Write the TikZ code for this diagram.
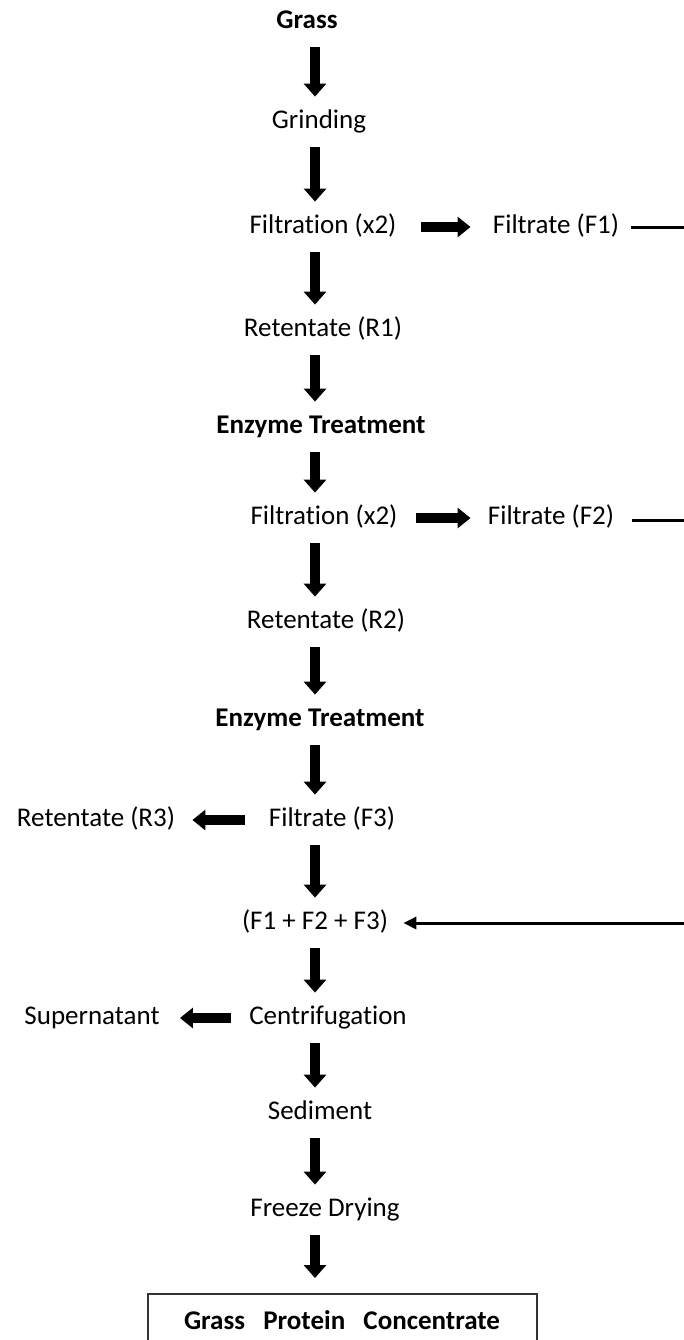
\documentclass[tikz,border=0pt]{standalone}
\usepackage{fontspec}
\setmainfont{Carlito}[Ligatures=NoCommon]
\usetikzlibrary{arrows.meta}
\begin{document}
\begin{tikzpicture}[x=0.5pt,y=-0.5pt,
    stage/.style={font=\fontsize{13.5}{16}\selectfont,inner sep=0pt,minimum height=25pt,text height=9pt,text depth=3pt},
    bstage/.style={stage,font=\fontsize{13.5}{16}\selectfont\bfseries},
    down/.style={line width=5pt,-{Triangle[width=11pt,length=6.5pt]}},
    side/.style={line width=5pt,-{Triangle[width=10pt,length=6.5pt]}},
    feed/.style={line width=1.5pt}]
    \useasboundingbox (0,0) rectangle (684,1340);
    \coordinate (spine) at (315,0);
    \node[bstage](grass) at (307,22){Grass};
    \node[stage](grind) at (319,122){Grinding};
    \node[stage](filt1) at (323,227){Filtration (x2)};
    \node[stage](ff1) at (556,227){Filtrate (F1)};
    \node[stage](ret1) at (323,330){Retentate (R1)};
    \node[bstage](enz1) at (321,427){Enzyme Treatment};
    \node[stage](filt2) at (324,518){Filtration (x2)};
    \node[stage](ff2) at (551,518){Filtrate (F2)};
    \node[stage](ret2) at (326,622){Retentate (R2)};
    \node[bstage](enz2) at (320,720){Enzyme Treatment};
    \node[stage](ff3) at (332,820){Filtrate (F3)};
    \node[stage](ret3) at (96,820){Retentate (R3)};
    \node[stage](sum) at (315,923){(F1 + F2 + F3)};
    \node[stage](centr) at (328,1018){Centrifugation};
    \node[stage](super) at (92,1018){Supernatant};
    \node[stage](sed) at (320,1113){Sediment};
    \node[stage](freeze) at (325,1210){Freeze Drying};
    \node[bstage,draw=black!80,line width=1pt,anchor=north,minimum width=194.5pt,minimum height=29pt](gpc) at (342,1293){Grass\hspace{0.45em} Protein\hspace{0.45em} Concentrate};
    \coordinate (e1) at (684,227);
    \coordinate (e2) at (684,520);
    \coordinate (e3) at (684,923);
    \draw[down](grass.south -| spine) -- (grind.north -| spine);
    \draw[down](grind.south -| spine) -- (filt1.north -| spine);
    \draw[down](filt1.south -| spine) -- (ret1.north -| spine);
    \draw[down](ret1.south -| spine) -- (enz1.north -| spine);
    \draw[down](enz1.south -| spine) -- (filt2.north -| spine);
    \draw[down](filt2.south -| spine) -- (ret2.north -| spine);
    \draw[down](ret2.south -| spine) -- (enz2.north -| spine);
    \draw[down](enz2.south -| spine) -- (ff3.north -| spine);
    \draw[down](ff3.south -| spine) -- (sum.north -| spine);
    \draw[down](sum.south -| spine) -- (centr.north -| spine);
    \draw[down](centr.south -| spine) -- (sed.north -| spine);
    \draw[down](sed.south -| spine) -- (freeze.north -| spine);
    \draw[down,shorten >=7.5pt](freeze.south -| spine) -- (gpc.north -| spine);
    \draw[side,shorten <=12pt,shorten >=11pt](filt1) -- (ff1);
    \draw[side,shorten <=9pt,shorten >=8.5pt](filt2) -- (ff2);
    \draw[side,shorten <=12pt,shorten >=8.5pt](ff3) -- (ret3);
    \draw[side,shorten <=9pt,shorten >=10pt](centr) -- (super);
    \draw[feed,shorten <=6pt](ff1.east) -- (e1);
    \draw[feed,shorten <=9pt](ff2.east |- e2) -- (e2);
    \draw[feed,-{Triangle[width=6pt,length=6.5pt]},shorten >=7.5pt](e3) -- (sum.east);
\end{tikzpicture}
\end{document}
